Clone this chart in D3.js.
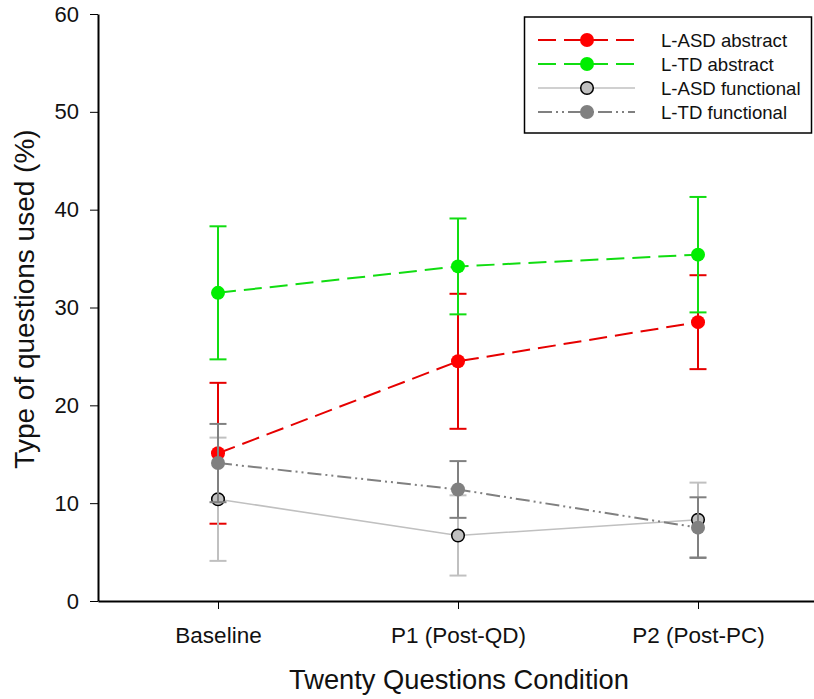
<!DOCTYPE html>
<html>
<head>
<meta charset="utf-8">
<script src="https://cdn.jsdelivr.net/npm/d3@7"></script>
<style>
  html, body { margin: 0; padding: 0; background: #fff; }
  svg { display: block; font-family: Arial, 'Liberation Sans', sans-serif; }
</style>
</head>
<body>
<div id="chart"></div>
<script>
const categories = ['Baseline', 'P1 (Post-QD)', 'P2 (Post-PC)']
const yTicks = [0, 10, 20, 30, 40, 50, 60]

const asdAbstract = [15.1, 24.5, 28.5]
const asdAbstractErr = [7.2, 6.9, 4.8]
const tdAbstract = [31.5, 34.2, 35.4]
const tdAbstractErr = [6.8, 4.9, 5.9]
const asdFunctional = [10.4, 6.7, 8.3]
const asdFunctionalErr = [6.3, 4.1, 3.8]
const tdFunctional = [14.1, 11.4, 7.5]
const tdFunctionalErr = [4.0, 2.9, 3.1]

const seriesNames = ['L-ASD abstract', 'L-TD abstract', 'L-ASD functional', 'L-TD functional']

const styles = [
  { line: '#e60000', fill: '#ff0000', stroke: 'none', dash: '18,8', width: 2 },
  { line: '#11dd11', fill: '#00ee00', stroke: 'none', dash: '18,8', width: 2 },
  { line: '#c0c0c0', fill: '#c0c0c0', stroke: '#000', dash: null, width: 1.6 },
  { line: '#808080', fill: '#808080', stroke: 'none', dash: '14,4,2,4,2,4', width: 2 }
]

const series = [
  [asdAbstract, asdAbstractErr],
  [tdAbstract, tdAbstractErr],
  [asdFunctional, asdFunctionalErr],
  [tdFunctional, tdFunctionalErr]
].map(([means, errs], k) => ({
  name: seriesNames[k],
  style: styles[k],
  points: means.map((m, i) => ({ cat: categories[i], mean: m, err: errs[i] }))
}))

const width = 814
const height = 699
const margin = { top: 14, right: -4, bottom: 98, left: 98 }

const svg = d3
  .select('#chart')
  .append('svg')
  .attr('width', width)
  .attr('height', height)

const x = d3
  .scalePoint()
  .domain(categories)
  .range([margin.left, width - margin.right])
  .padding(0.5)

const y = d3
  .scaleLinear()
  .domain([0, 60])
  .range([height - margin.bottom, margin.top])

// axes
const xAxis = g =>
  g
    .attr('transform', `translate(0, ${y(0)})`)
    .call(d3.axisBottom(x).tickSizeOuter(0).tickSizeInner(8).tickPadding(18))
    .call(g => g.selectAll('text').attr('font-size', 22.5).attr('fill', '#111'))
    .call(g => g.select('.domain').attr('stroke-width', 2))

const yAxis = g =>
  g
    .attr('transform', `translate(${margin.left}, 0)`)
    .call(d3.axisLeft(y).tickValues(yTicks).tickSizeOuter(0).tickSizeInner(8).tickPadding(11))
    .call(g => g.selectAll('text').attr('font-size', 22).attr('fill', '#111'))
    .call(g => g.select('.domain').attr('stroke-width', 2))

svg.append('g').call(xAxis).attr('font-family', null)
svg.append('g').call(yAxis).attr('font-family', null)

svg
  .append('text')
  .attr('x', 459)
  .attr('y', 689)
  .attr('text-anchor', 'middle')
  .attr('font-size', 27.3)
  .attr('fill', '#111')
  .text('Twenty Questions Condition')

svg
  .append('text')
  .attr('transform', 'translate(34, 299) rotate(-90)')
  .attr('text-anchor', 'middle')
  .attr('font-size', 28)
  .attr('fill', '#111')
  .text('Type of questions used (%)')

// series
const line = d3
  .line()
  .x(d => x(d.cat))
  .y(d => y(d.mean))

const capW = 8.5

series.forEach(s => {
  const g = svg.append('g')
  const st = s.style

  g.append('path')
    .datum(s.points)
    .attr('d', line)
    .attr('fill', 'none')
    .attr('stroke', st.line)
    .attr('stroke-width', st.width)
    .attr('stroke-dasharray', st.dash)

  const eb = g
    .selectAll('g.err')
    .data(s.points)
    .join('g')
    .attr('stroke', st.line)
    .attr('stroke-width', 2)

  eb.append('line')
    .attr('x1', d => x(d.cat))
    .attr('x2', d => x(d.cat))
    .attr('y1', d => y(d.mean - d.err))
    .attr('y2', d => y(d.mean + d.err))

  eb.append('line')
    .attr('x1', d => x(d.cat) - capW)
    .attr('x2', d => x(d.cat) + capW)
    .attr('y1', d => y(d.mean + d.err))
    .attr('y2', d => y(d.mean + d.err))

  eb.append('line')
    .attr('x1', d => x(d.cat) - capW)
    .attr('x2', d => x(d.cat) + capW)
    .attr('y1', d => y(d.mean - d.err))
    .attr('y2', d => y(d.mean - d.err))

  g.selectAll('circle')
    .data(s.points)
    .join('circle')
    .attr('cx', d => x(d.cat))
    .attr('cy', d => y(d.mean))
    .attr('r', st.stroke === 'none' ? 7 : 6.3)
    .attr('fill', st.fill)
    .attr('stroke', st.stroke)
    .attr('stroke-width', 1.5)
})

// legend
const legend = svg.append('g')

legend
  .append('rect')
  .attr('x', 524.5)
  .attr('y', 17)
  .attr('width', 287)
  .attr('height', 116)
  .attr('fill', '#fff')
  .attr('stroke', '#000')
  .attr('stroke-width', 1.5)

const rows = legend
  .selectAll('g.row')
  .data(series)
  .join('g')
  .attr('transform', (_, i) => `translate(0, ${40 + i * 24})`)

rows
  .append('line')
  .attr('x1', 538)
  .attr('x2', 635)
  .attr('stroke', d => d.style.line)
  .attr('stroke-width', d => d.style.width)
  .attr('stroke-dasharray', d => d.style.dash)

rows
  .append('circle')
  .attr('cx', 587)
  .attr('r', d => (d.style.stroke === 'none' ? 7 : 6.3))
  .attr('fill', d => d.style.fill)
  .attr('stroke', d => d.style.stroke)
  .attr('stroke-width', 1.5)

rows
  .append('text')
  .attr('x', 661)
  .attr('dy', '0.35em')
  .attr('font-size', 18.6)
  .attr('fill', '#111')
  .text(d => d.name)
</script>
</body>
</html>
